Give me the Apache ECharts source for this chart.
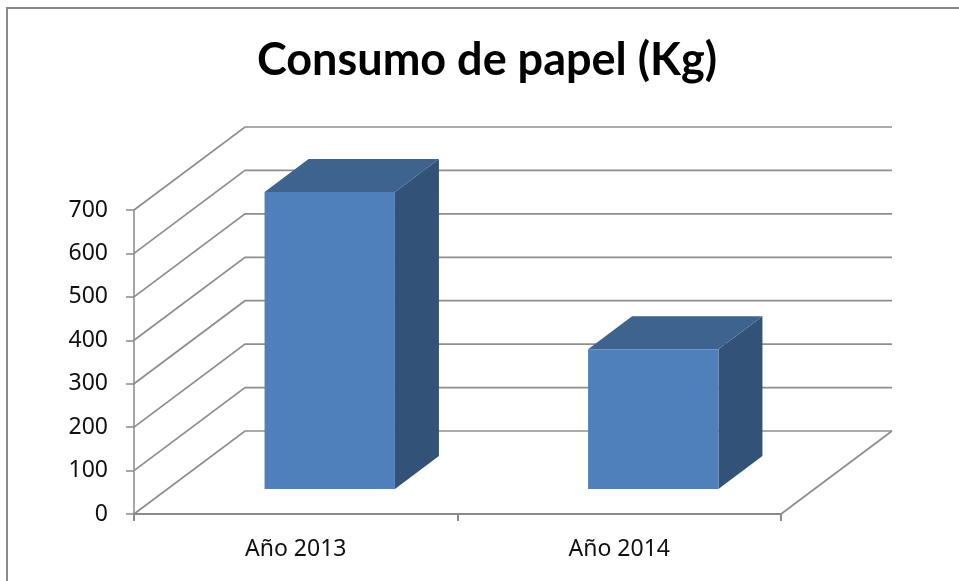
<!DOCTYPE html>
<html><head><meta charset="utf-8">
<style>html,body{margin:0;padding:0;background:#fff}#c{width:959px;height:581px}</style>
<script src="https://cdn.jsdelivr.net/npm/echarts@6/dist/echarts.min.js"></script></head>
<body><div id="c"></div>
<script>
const categories = ['Año 2013', 'Año 2014'];
const consumo = [684, 322];
const yTicks = [0, 100, 200, 300, 400, 500, 600, 700];
const titleText = 'Consumo de papel (Kg)';

const WALL = [111, -83], BAR_FRONT = [34, -25], BAR_DEPTH = [44, -33];
const GRID = '#8e8e8e';

function renderWalls(params, api) {
  const v = api.value(1);
  const band = api.size([1, 0])[0];
  const p0 = api.coord([0, v]);
  const left = p0[0] - band / 2;
  const right = left + band * categories.length;
  const y = p0[1];
  const ls = { stroke: GRID, lineWidth: 1.7, fill: null };
  const kids = [
    { type: 'polyline', shape: { points: [[left, y], [left + WALL[0], y + WALL[1]], [right + WALL[0], y + WALL[1]]] }, style: ls }
  ];
  if (v === 0) kids.push({ type: 'line', shape: { x1: right, y1: y, x2: right + WALL[0], y2: y + WALL[1] }, style: ls });
  return { type: 'group', children: kids };
}

function renderBars(params, api) {
  const c = api.coord([api.value(0), api.value(1)]);
  const base = api.coord([api.value(0), 0]);
  const w = api.size([1, 0])[0] * 0.403;
  const x0 = c[0] - w / 2 + BAR_FRONT[0], x1 = x0 + w;
  const yt = c[1] + BAR_FRONT[1], yb = base[1] + BAR_FRONT[1];
  const dx = BAR_DEPTH[0], dy = BAR_DEPTH[1];
  return { type: 'group', children: [
    { type: 'polygon', shape: { points: [[x1, yt], [x1 + dx, yt + dy], [x1 + dx, yb + dy], [x1, yb]] }, style: { fill: '#325277' } },
    { type: 'polygon', shape: { points: [[x0, yt], [x0 + dx, yt + dy], [x1 + dx, yt + dy], [x1, yt]] }, style: { fill: '#3E638F' } },
    { type: 'rect', shape: { x: x0, y: yt, width: w, height: yb - yt }, style: { fill: '#4F80BC' } }
  ] };
}

const chart = echarts.init(document.getElementById('c'), null, { renderer: 'canvas' });
chart.setOption({
  animation: false,
  backgroundColor: '#fff',
  title: { text: titleText, left: 482, top: 33, textAlign: 'center',
    textStyle: { fontFamily: 'Lato', fontWeight: 'bold', fontSize: 45, color: '#000' } },
  grid: { left: 134, right: 178, top: 210, bottom: 67 },
  xAxis: { type: 'category', data: categories, boundaryGap: true,
    axisLine: { lineStyle: { color: '#8a8a8a', width: 2 } },
    axisTick: { show: true, length: 7, alignWithLabel: false, lineStyle: { color: '#8a8a8a', width: 2 } },
    axisLabel: { margin: 24, fontFamily: 'Noto Sans', fontSize: 23, color: '#111' } },
  yAxis: { type: 'value', min: 0, max: 700, interval: 100,
    splitLine: { show: false },
    axisLine: { show: true, lineStyle: { color: '#8a8a8a', width: 1.5 } },
    axisTick: { show: true, length: 8, lineStyle: { color: '#8a8a8a', width: 1.5 } },
    axisLabel: { margin: 26, fontFamily: 'Noto Sans', fontSize: 23, color: '#111', padding: [14, 0, 0, 0] } },
  graphic: [
    { type: 'polyline', silent: true, shape: { points: [[7, 581], [7, 8], [959, 8]] },
      style: { stroke: '#8a8a8a', lineWidth: 2, fill: null } }
  ],
  series: [
    { type: 'custom', z: 1, renderItem: renderWalls, encode: { x: 0, y: 1 },
      data: yTicks.map(v => [0, v]), silent: true },
    { type: 'custom', z: 2, renderItem: renderBars, encode: { x: 0, y: 1 },
      data: consumo.map((v, i) => [i, v]), silent: true }
  ]
});
</script></body></html>
